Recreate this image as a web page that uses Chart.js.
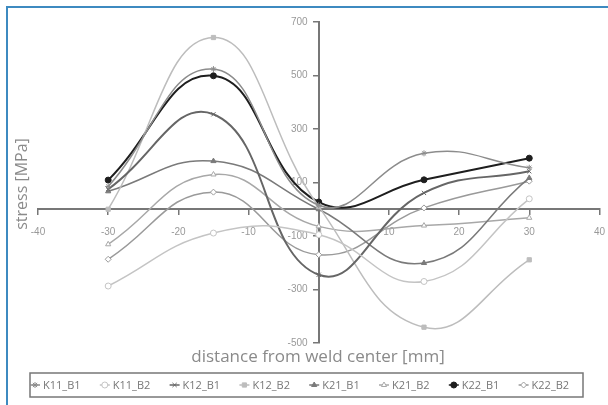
<!DOCTYPE html>
<html>
<head>
<meta charset="utf-8">
<script src="https://cdn.jsdelivr.net/npm/chart.js@4/dist/chart.umd.min.js"></script>
<style>
  body { margin: 0; background: #fff; overflow: hidden; }
  #frame { position: absolute; left: 6px; top: 6px; width: 602px; height: 399px;
           border-left: 2px solid #3d8ac0; border-top: 2px solid #3d8ac0; }
  #c { position: absolute; left: 8px; top: 8px; }
</style>
</head>
<body>
<div id="frame"></div>
<canvas id="c" width="609" height="397"></canvas>
<script>
// distance from weld center [mm]
var positions = [-30, -15, 0, 15, 30];

// stress [MPa] per specimen
var K11_B1 = [85, 524, 15, 209, 155];
var K11_B2 = [-287, -89, -95, -270, 39];
var K12_B1 = [75, 355, -245, 61, 142];
var K12_B2 = [0, 642, 10, -441, -189];
var K21_B1 = [67, 180, 0, -201, 117];
var K21_B2 = [-131, 130, -64, -61, -32];
var K22_B1 = [109, 499, 27, 110, 191];
var K22_B2 = [-187, 64, -170, 5, 105];

var xTicks = [-40, 40, 10];
var yTicks = [-500, 700, 200];

function pts(vals) {
  return vals.map(function (v, i) { return { x: positions[i], y: v }; });
}

function series(label, vals, color, style, fill, width) {
  return {
    label: label,
    data: pts(vals),
    borderColor: color,
    backgroundColor: fill,
    borderWidth: width,
    pointStyle: style,
    pointRadius: 3,
    pointBorderWidth: 1,
    tension: 0.45
  };
}

// axis titles and an Excel-like boxed legend in one row
var extras = {
  id: "extras",
  afterDraw: function (chart) {
    var ctx = chart.ctx, a = chart.chartArea;
    ctx.save();
    ctx.fillStyle = "#8a8a8a";
    ctx.textAlign = "center";
    ctx.textBaseline = "middle";
    ctx.font = "17px 'Open Sans'";
    ctx.fillText("distance from weld center [mm]", 310, a.bottom + 14);
    ctx.save();
    ctx.translate(14, 176);
    ctx.rotate(-Math.PI / 2);
    ctx.font = "16px 'Open Sans'";
    ctx.fillText("stress [MPa]", 0, 0);
    ctx.restore();

    var ly = 377, lx = 27, step = 69.8;
    ctx.strokeStyle = "#777";
    ctx.lineWidth = 1.5;
    ctx.strokeRect(22, 365, 553, 24);
    ctx.font = "11px 'Open Sans'";
    ctx.textAlign = "left";
    chart.data.datasets.forEach(function (ds, i) {
      var x = lx + step * i;
      ctx.strokeStyle = ds.borderColor;
      ctx.lineWidth = 1.5;
      ctx.beginPath();
      ctx.moveTo(x - 5, ly);
      ctx.lineTo(x + 5, ly);
      ctx.stroke();
      ctx.fillStyle = ds.backgroundColor;
      ctx.lineWidth = 1;
      Chart.helpers.drawPoint(ctx, { pointStyle: ds.pointStyle, radius: 3, borderWidth: 1, rotation: 0 }, x, ly);
      ctx.fillStyle = "#777";
      ctx.fillText(ds.label, x + 8, ly + 1);
    });
    ctx.restore();
  }
};

new Chart(document.getElementById("c"), {
  type: "line",
  data: {
    datasets: [
      series("K11_B1", K11_B1, "#8c8c8c", "star", "#8c8c8c", 1.5),
      series("K11_B2", K11_B2, "#c4c4c4", "circle", "#fff", 1.5),
      series("K12_B1", K12_B1, "#666", "crossRot", "#666", 2),
      series("K12_B2", K12_B2, "#bdbdbd", "rect", "#bdbdbd", 1.5),
      series("K21_B1", K21_B1, "#7a7a7a", "triangle", "#7a7a7a", 1.5),
      series("K21_B2", K21_B2, "#a8a8a8", "triangle", "#fff", 1.5),
      series("K22_B1", K22_B1, "#1e1e1e", "circle", "#1e1e1e", 2),
      series("K22_B2", K22_B2, "#9a9a9a", "rectRot", "#fff", 1.5)
    ]
  },
  options: {
    responsive: false,
    animation: false,
    layout: { padding: { left: 30, right: 0, top: 14, bottom: 62 } },
    plugins: {
      legend: { display: false },
      tooltip: { enabled: false }
    },
    scales: {
      x: {
        type: "linear",
        position: { y: 0 },
        min: xTicks[0], max: xTicks[1],
        ticks: { stepSize: xTicks[2], color: "#999", font: { size: 10 }, padding: 12 },
        grid: { drawOnChartArea: false, tickLength: 5, color: "#777", lineWidth: 1.5 },
        border: { color: "#777", width: 2 }
      },
      y: {
        type: "linear",
        position: { x: 0 },
        min: yTicks[0], max: yTicks[1],
        ticks: {
          stepSize: yTicks[2], color: "#999", font: { size: 10 }, padding: 8,
          callback: function (v) { return v + "    "; }
        },
        grid: { drawOnChartArea: false, tickLength: 5, color: "#777", lineWidth: 1.5 },
        border: { color: "#777", width: 2 }
      }
    }
  },
  plugins: [extras]
});
</script>
</body>
</html>
